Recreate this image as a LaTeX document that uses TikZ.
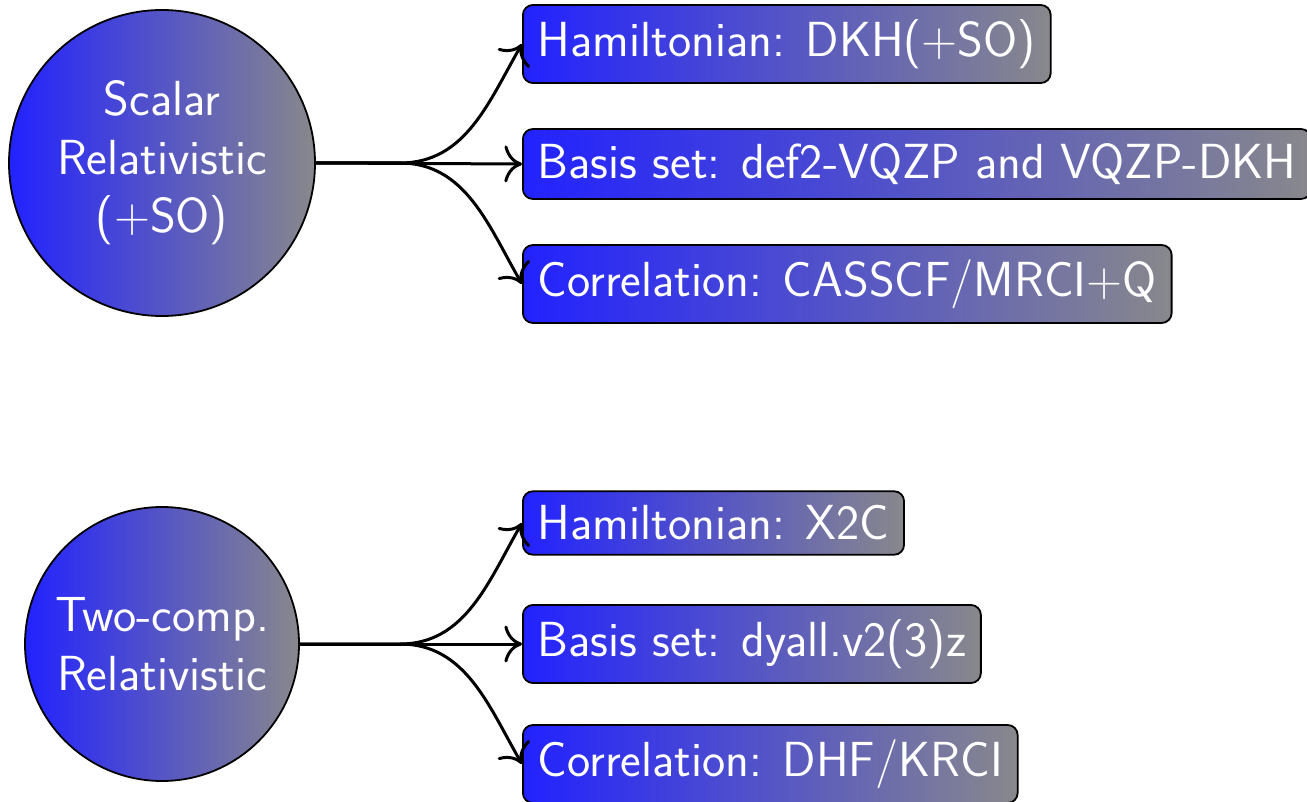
\documentclass[tikz,border=0pt]{standalone}
\usetikzlibrary{shadings,arrows.meta}
\definecolor{gleft}{RGB}{34,34,255}
\definecolor{gright}{RGB}{136,136,140}
\begin{document}
\begin{tikzpicture}[x=0.5pt,y=-0.5pt,
  grad/.style={draw=black,line width=0.9pt,left color=gleft,right color=gright,text=white,
    font=\sffamily\fontsize{24.65}{29.2}\selectfont},
  topic/.style={grad,circle,inner sep=0pt,align=center},
  item/.style={grad,rounded corners=5pt,anchor=west,inner xsep=7.4pt,inner ysep=7.2pt},
  arr/.style={-{To[scale=1.8]},line width=1.5pt}
]
\useasboundingbox (0,0) rectangle (1307,802);
% upper group
\node[topic,minimum size=153pt] (c1) at (162,163) {Scalar\\Relativistic\\(+SO)};
\node[item] (b1) at (522,44) {Hamiltonian: DKH(+SO)};
\node[item] (b2) at (522,164) {Basis set: def2-VQZP and VQZP-DKH};
\node[item] (b3) at (522,284) {Correlation: CASSCF/MRCI+Q};
\coordinate (s1) at (400,163);
\draw[arr] (c1.east) -- (s1) .. controls +(66,0) and +(-33,57) .. (b1.west);
\draw[arr] (c1.east) -- (b2.west);
\draw[arr] (c1.east) -- (s1) .. controls +(66,0) and +(-33,-57) .. (b3.west);
% lower group
\node[topic,minimum size=137pt] (c2) at (162,644) {Two-comp.\\Relativistic};
\node[item] (b4) at (522,523) {Hamiltonian: X2C};
\node[item] (b5) at (522,644) {Basis set: dyall.v2(3)z};
\node[item] (b6) at (522,764) {Correlation: DHF/KRCI};
\coordinate (s2) at (400,644);
\draw[arr] (c2.east) -- (s2) .. controls +(66,0) and +(-33,57) .. (b4.west);
\draw[arr] (c2.east) -- (b5.west);
\draw[arr] (c2.east) -- (s2) .. controls +(66,0) and +(-33,-57) .. (b6.west);
\end{tikzpicture}
\end{document}
